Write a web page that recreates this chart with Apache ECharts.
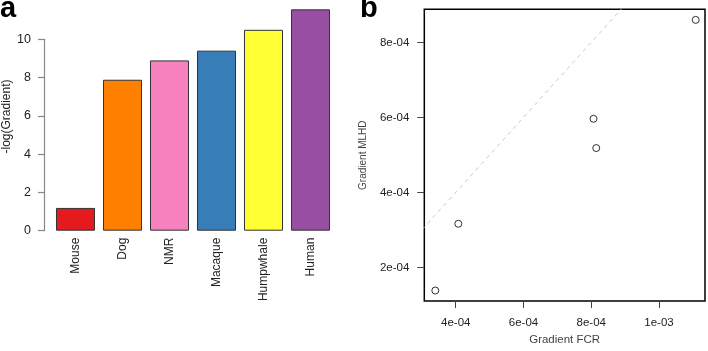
<!DOCTYPE html>
<html lang="en">
<head>
  <meta charset="UTF-8">
  <title>Gradient</title>
  <style>
    html, body { margin: 0; padding: 0; background: #fff; }
    #main { width: 708px; height: 351px; }
  </style>
</head>
<body>
  <div id="main"></div>
  <script src="https://cdn.jsdelivr.net/npm/echarts@6/dist/echarts.min.js"></script>
  <script>
    // panel a
    var species = ['Mouse', 'Dog', 'NMR', 'Macaque', 'Humpwhale', 'Human']
    var gradientLog = [1.19, 7.89, 8.90, 9.41, 10.50, 11.57]
    var barColors = ['#E41A1C', '#FF7F00', '#F781BF', '#377EB8', '#FFFF33', '#984EA3']

    // panel b
    var gradFCR = [3.397e-4, 4.077e-4, 8.068e-4, 8.148e-4, 1.1084e-3]
    var gradMLHD = [1.385e-4, 3.164e-4, 5.963e-4, 5.182e-4, 8.599e-4]
    var xTicksB = [4e-4, 6e-4, 8e-4, 1e-3]
    var xTickLabelsB = ['4e-04', '6e-04', '8e-04', '1e-03']
    var yTicksB = [2e-4, 4e-4, 6e-4, 8e-4]
    var yTickLabelsB = ['2e-04', '4e-04', '6e-04', '8e-04']
    var identity = [0, 0.002]   // y = x reference line

    var font = 'Liberation Sans, Arial, sans-serif'

    function tickLabel(ticks, labels) {
      return function (v) {
        for (var i = 0; i < ticks.length; i++) {
          if (Math.abs(ticks[i] - v) < 1e-9) return labels[i]
        }
        return ''
      }
    }

    var myChart = echarts.init(document.getElementById('main'))

    var options = {
      animation: false,
      title: [
        { text: 'a', left: 0, top: -6, padding: 0,
          textStyle: { fontFamily: font, fontWeight: 'bold', fontSize: 29, color: '#000' } },
        { text: 'b', left: 360, top: -6, padding: 0,
          textStyle: { fontFamily: font, fontWeight: 'bold', fontSize: 29, color: '#000' } }
      ],
      grid: [
        { left: 52, top: 1.1, width: 282, height: 229.6 },
        { left: 44, top: 39.3, width: 8, height: 191.4 },
        { left: 424.3, top: 9.3, width: 280.7, height: 294.7,
          show: true, borderColor: '#000', borderWidth: 1.5, backgroundColor: 'transparent' }
      ],
      xAxis: [
        {
          gridIndex: 0, type: 'category', data: species,
          axisLine: { show: false }, axisTick: { show: false },
          axisLabel: { rotate: 90, margin: 7, fontSize: 12, fontFamily: font, color: '#222' }
        },
        { gridIndex: 1, type: 'value', show: false },
        {
          gridIndex: 2, type: 'value', min: 3.072e-4, max: 1.1359e-3,
          splitLine: { show: false },
          axisLine: { show: false },
          axisTick: { show: true, length: 7, customValues: xTicksB, lineStyle: { color: '#444' } },
          axisLabel: { customValues: xTicksB, formatter: tickLabel(xTicksB, xTickLabelsB),
            margin: 16, fontSize: 11.5, fontFamily: font, color: '#222' },
          name: 'Gradient FCR', nameLocation: 'middle', nameGap: 31,
          nameTextStyle: { fontSize: 11.5, fontFamily: font, color: '#444' }
        }
      ],
      yAxis: [
        { gridIndex: 0, type: 'value', min: 0, max: 12, show: false },
        {
          gridIndex: 1, type: 'value', min: 0, max: 10, interval: 2,
          splitLine: { show: false },
          axisLine: { show: true, lineStyle: { color: '#888', width: 1.2 } },
          axisTick: { show: true, length: 6, lineStyle: { color: '#888', width: 1.2 } },
          axisLabel: { margin: 13, fontSize: 12.5, fontFamily: font, color: '#222' },
          name: '-log(Gradient)', nameLocation: 'middle', nameGap: 31,
          nameTextStyle: { fontSize: 12, fontFamily: font, color: '#222', padding: [0, 0, 0, 37] }
        },
        {
          gridIndex: 2, type: 'value', min: 1.103e-4, max: 8.881e-4,
          splitLine: { show: false },
          axisLine: { show: false },
          axisTick: { show: true, length: 7, customValues: yTicksB, lineStyle: { color: '#444' } },
          axisLabel: { customValues: yTicksB, formatter: tickLabel(yTicksB, yTickLabelsB),
            margin: 15, fontSize: 11.5, fontFamily: font, color: '#222' },
          name: 'Gradient MLHD', nameLocation: 'middle', nameGap: 56,
          nameTextStyle: { fontSize: 10, fontFamily: font, color: '#444' }
        }
      ],
      series: [
        {
          type: 'bar', xAxisIndex: 0, yAxisIndex: 0,
          data: gradientLog,
          barCategoryGap: '17%',
          itemStyle: {
            color: function (p) { return barColors[p.dataIndex] },
            borderColor: '#333', borderWidth: 1
          }
        },
        {
          type: 'line', xAxisIndex: 2, yAxisIndex: 2,
          data: identity.map(function (v) { return [v, v] }),
          symbol: 'none', silent: true,
          lineStyle: { color: '#c8c8c8', width: 1, type: [4, 4] }
        },
        {
          type: 'scatter', xAxisIndex: 2, yAxisIndex: 2,
          data: gradFCR.map(function (x, i) { return [x, gradMLHD[i]] }),
          symbol: 'circle', symbolSize: 7,
          itemStyle: { color: '#fff', borderColor: '#000', borderWidth: 1 }
        }
      ]
    }

    myChart.setOption(options)
  </script>
</body>
</html>
